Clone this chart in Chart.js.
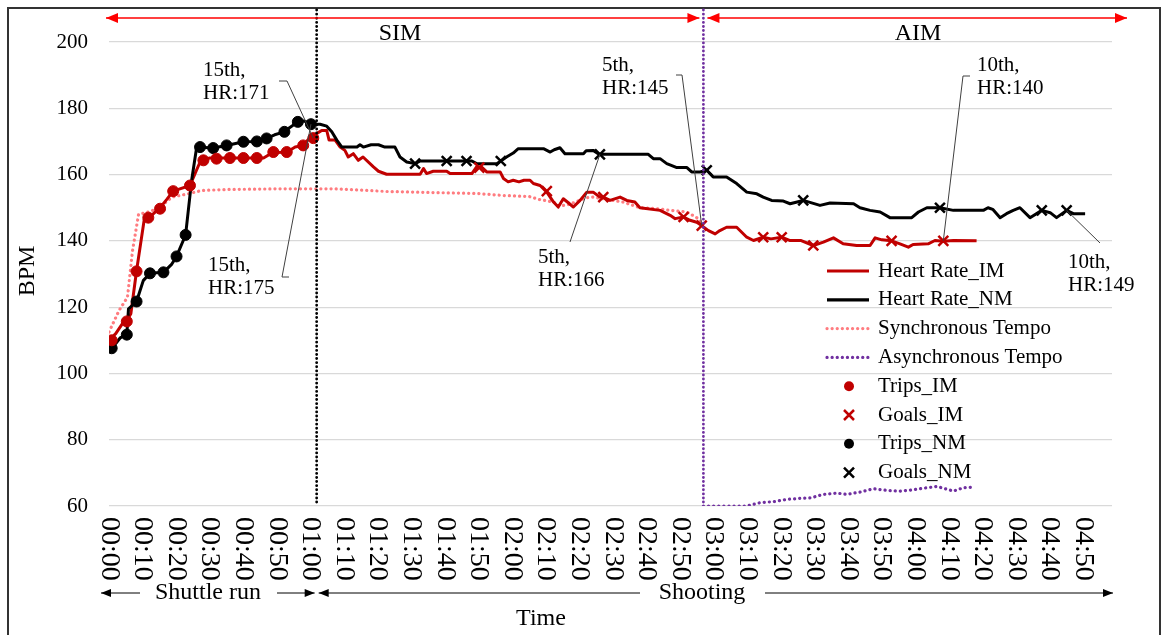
<!DOCTYPE html>
<html>
<head>
<meta charset="utf-8">
<script src="https://cdn.jsdelivr.net/npm/chart.js@4.4.1/dist/chart.umd.min.js"></script>
<style>
  html, body { margin: 0; padding: 0; background: #fff; }
  #wrap { width: 1169px; height: 635px; position: relative; }
</style>
</head>
<body>
<div id="wrap"><canvas id="chart" width="1169" height="635"></canvas></div>
<script>
// time in seconds from start, heart rate in BPM
const hrImSec = [0, 2, 4, 5.3, 6.5, 8.2, 10.5, 11.7, 13, 15.2, 17.2, 19.1, 21.1, 24.1, 25.6, 27.1, 28.1, 30, 46, 48.6, 53, 55.4, 57.8, 59.3, 60.8, 62, 63.3, 64.8, 65.5, 67.3, 68.8, 70.2, 71.2, 72.7, 74.2, 75.6, 78.7, 80.2, 82.6, 92.6, 93.6, 94.5, 96.5, 100.5, 101.5, 108, 109.4, 110.9, 112.4, 116.4, 117.4, 118.8, 120.3, 122, 123.5, 125.3, 126.3, 128.3, 130.3, 132.3, 133.7, 135.2, 136.7, 138.2, 140.2, 142.2, 144.1, 146.1, 147.1, 149.1, 152.1, 154.1, 156.5, 158, 164, 167, 168.5, 171, 172.9, 174.9, 176.4, 178.4, 180.4, 181.8, 183.8, 186.8, 189.8, 191.8, 194.7, 197, 200.2, 202.7, 206, 209.6, 212.6, 215.6, 218.5, 222.5, 226.5, 228, 230, 232.9, 235.4, 237.9, 239.3, 243.8, 245.8, 248.3, 251.3, 258.2];
const hrImBpm = [110, 112, 115, 116, 118, 131, 146.5, 147, 148, 150, 152.5, 155, 155.7, 156.7, 160.3, 163.8, 164.5, 165, 165, 166.6, 166.8, 168.3, 168.8, 170.6, 171, 172.5, 173.3, 173.3, 170.4, 170.4, 168.3, 167.3, 165.3, 166.3, 164.3, 165.3, 162.3, 161, 160.1, 160.1, 161.8, 160.3, 161, 161, 160.3, 160.3, 162.3, 162.3, 160.8, 160.8, 158.8, 157.8, 158.3, 157.8, 158.3, 158.3, 157.3, 156.7, 154.7, 151.7, 150.2, 152.7, 151.5, 150.2, 152.2, 154.7, 154.7, 153.2, 153.2, 152.2, 153.2, 152.2, 151.7, 150, 149.2, 147.7, 146.7, 147.2, 146.2, 145.6, 144.6, 143.1, 142.1, 143.1, 144.1, 144.1, 141.1, 140.1, 141.1, 140.6, 141.1, 140.1, 140.1, 138.6, 139.6, 140.9, 139.1, 138.6, 138.6, 140.9, 140.3, 140, 139.1, 138.1, 138.9, 139.1, 140.1, 139.9, 140.1, 140];

const hrNmSec = [0, 2, 3.3, 5.3, 5.8, 8.2, 10.2, 12.2, 16.2, 18.7, 20.1, 22.1, 22.8, 24.6, 26.1, 31, 35, 40, 44, 46.9, 49.3, 52.2, 53.4, 56.2, 58, 60.1, 62.8, 64.8, 66.3, 67.8, 69.3, 73.8, 74.7, 75.7, 78, 80.2, 82.1, 85.1, 86.6, 88.6, 91.1, 92.6, 108, 109.4, 115.4, 116.6, 118.3, 120.3, 121.8, 129.3, 131.3, 132.5, 134.2, 135.7, 141.2, 142, 144.1, 145.6, 146.1, 160.5, 162, 164, 166, 169, 172, 173.4, 175.9, 177.9, 179.8, 183.8, 186.8, 189.8, 192.8, 194.7, 197.2, 200.7, 202.7, 206.6, 211.6, 214.6, 221.6, 223.5, 226.5, 229.5, 232.4, 238.9, 240.9, 243.4, 247.3, 251.3, 260.2, 261.6, 263, 265.2, 267.1, 269.1, 271.1, 274.1, 277.6, 280.1, 282, 285, 287, 290.5];
const hrNmBpm = [107.6, 109, 110.7, 111.7, 119.5, 121.7, 128, 130.2, 130.5, 133, 135.3, 140.1, 141.8, 158.3, 168.3, 168, 168.8, 169.9, 170, 170.9, 172, 172.9, 173.9, 175.9, 176.2, 175.2, 175.2, 174.6, 172.9, 170.4, 168.3, 168.3, 169, 168.3, 169, 169, 168.3, 168.3, 165.3, 163.8, 163.3, 164.1, 164.1, 163.3, 163.3, 164.1, 165.3, 166.5, 167.8, 167.8, 166.8, 167.5, 168.1, 166.3, 166.3, 167.2, 167.3, 166.3, 166.1, 166.1, 164.8, 164.8, 163.3, 162.1, 162.1, 160.8, 160.8, 161.3, 159.3, 159.3, 157.3, 154.7, 154.2, 153.2, 152.2, 152, 151.2, 152.2, 150.7, 151.4, 151.2, 150, 149.2, 148.7, 147, 147, 148.7, 150, 150, 149.2, 149.2, 150, 149.5, 147, 148.2, 149.2, 150, 147, 149.2, 148.5, 147, 149.2, 148.2, 148.2];

const syncSec = [0, 3, 5.5, 7, 8.8, 12, 15, 18.7, 23.6, 27.6, 35, 50, 67.3, 82.6, 100, 109.4, 117, 125, 128, 132.3, 134, 137, 142, 144, 153, 158, 163, 167, 172, 174.9, 176.4];
const syncBpm = [112.5, 119, 123, 137, 148, 148.8, 150, 153.2, 154.2, 155.2, 155.5, 155.7, 155.7, 154.9, 154.5, 154.3, 153.7, 153.4, 152.5, 151.7, 150.5, 151, 153, 153.2, 151.7, 150, 149.7, 149.2, 148.7, 147, 145.5];

const asyncSec = [176.9, 189.8, 193.8, 197.7, 201.7, 205.7, 209, 212.6, 216.6, 219.5, 223.5, 227.5, 231.5, 235.4, 239.4, 243.4, 246.4, 251.3, 254.3, 257.3];
const asyncBpm = [60, 60, 61, 61.3, 62, 62.3, 62.5, 63.5, 63.9, 63.5, 64.2, 65.2, 64.7, 64.5, 64.9, 65.5, 65.9, 64.5, 65.5, 65.7];

const tripsImSec = [0.8, 5.3, 8.2, 11.7, 15.2, 19.1, 24.1, 28.1, 32, 36, 40, 44, 48.9, 52.9, 57.8, 60.8];
const tripsImBpm = [110, 115.7, 130.8, 147, 149.7, 155, 156.7, 164.3, 164.8, 165, 165, 165, 166.8, 166.8, 168.8, 171];
const tripsNmSec = [0.8, 5.3, 8.2, 12.2, 16.2, 20.1, 22.8, 27.1, 31, 35, 40, 44, 46.9, 52.2, 56.2, 60.1];
const tripsNmBpm = [107.6, 111.7, 121.7, 130.2, 130.5, 135.3, 141.8, 168.3, 168, 168.8, 169.9, 170, 170.9, 172.9, 175.9, 175.2];
const goalsImSec = [110.2, 130.3, 147.1, 171, 176.4, 194.7, 200.2, 209.6, 232.9, 248.3];
const goalsImBpm = [162.1, 155, 153.2, 147.2, 144.6, 141.1, 141.1, 138.6, 140, 140];
const goalsNmSec = [91.1, 100.5, 106.4, 116.6, 146.1, 177.9, 206.6, 247.3, 277.6, 285];
const goalsNmBpm = [163.3, 164.1, 164.1, 164.1, 166.1, 161.3, 152.2, 150, 149.2, 149.2];

const tickSecs = [0, 10, 20, 30, 40, 50, 60, 70, 80, 90, 100, 110, 120, 130, 140, 150, 160, 170, 180, 190, 200, 210, 220, 230, 240, 250, 260, 270, 280, 290];
const tickLabels = ['00:00', '00:10', '00:20', '00:30', '00:40', '00:50', '01:00', '01:10', '01:20', '01:30', '01:40', '01:50', '02:00', '02:10', '02:20', '02:30', '02:40', '02:50', '03:00', '03:10', '03:20', '03:30', '03:40', '03:50', '04:00', '04:10', '04:20', '04:30', '04:40', '04:50'];

// phase boundaries (seconds)
const shuttleEnd = 61.8;
const asyncStart = 176.9;

// callouts: label position, leader elbow, and the point it marks
const callouts = [
  { lines: ['15th,', 'HR:171'], text: [203, 70], elbow: [[279, 81], [287, 81]], sec: 60.8, bpm: 171 },
  { lines: ['15th,', 'HR:175'], text: [208, 265], elbow: [[289, 277], [282, 277]], sec: 60.1, bpm: 175.2 },
  { lines: ['5th,', 'HR:145'], text: [602, 65], elbow: [[676, 75], [682, 75]], sec: 176.4, bpm: 144.6 },
  { lines: ['5th,', 'HR:166'], text: [538, 257], elbow: [[570, 242]], sec: 146.1, bpm: 166.1 },
  { lines: ['10th,', 'HR:140'], text: [977, 65], elbow: [[970, 76], [963, 76]], sec: 248.3, bpm: 140 },
  { lines: ['10th,', 'HR:149'], text: [1068, 262], elbow: [[1100, 243]], sec: 285, bpm: 149.2 },
];

const RED = '#C00000';
const PINK = '#FF7C80';
const PURPLE = '#7030A0';
const DOTS = [0.1, 5];
const FONT = '"Liberation Serif", "Times New Roman", serif';

const pts = (xs, ys) => xs.map((v, i) => ({ x: v, y: ys[i] }));

const legendItems = [
  { label: 'Heart Rate_IM', kind: 'line', color: RED, dash: [] },
  { label: 'Heart Rate_NM', kind: 'line', color: '#000', dash: [] },
  { label: 'Synchronous Tempo', kind: 'line', color: PINK, dash: DOTS },
  { label: 'Asynchronous Tempo', kind: 'line', color: PURPLE, dash: DOTS },
  { label: 'Trips_IM', kind: 'dot', color: RED },
  { label: 'Goals_IM', kind: 'x', color: RED },
  { label: 'Trips_NM', kind: 'dot', color: '#000' },
  { label: 'Goals_NM', kind: 'x', color: '#000' },
];

function head(ctx, x, y, dir, len, half) {
  ctx.beginPath();
  ctx.moveTo(x, y);
  ctx.lineTo(x - dir * len, y - half);
  ctx.lineTo(x - dir * len, y + half);
  ctx.closePath();
  ctx.fill();
}

function hline(ctx, x1, x2, y) {
  ctx.beginPath();
  ctx.moveTo(x1, y);
  ctx.lineTo(x2, y);
  ctx.stroke();
}

const overlay = {
  id: 'overlay',
  afterDraw(chart) {
    const { ctx, chartArea: a, scales: { x, y } } = chart;
    ctx.save();

    // frame
    ctx.strokeStyle = '#333';
    ctx.lineWidth = 2;
    ctx.strokeRect(8, 8, 1152, 640);

    // x tick labels, rotated clockwise
    ctx.fillStyle = '#000';
    ctx.font = `28px ${FONT}`;
    ctx.textAlign = 'left';
    ctx.textBaseline = 'middle';
    tickSecs.forEach((s, i) => {
      ctx.save();
      ctx.translate(x.getPixelForValue(s), a.bottom + 11);
      ctx.rotate(Math.PI / 2);
      ctx.fillText(tickLabels[i], 0, 0);
      ctx.restore();
    });

    // axis titles
    ctx.textAlign = 'center';
    ctx.font = `24px ${FONT}`;
    ctx.fillText('Time', 541, 619);
    ctx.save();
    ctx.translate(28, 271);
    ctx.rotate(-Math.PI / 2);
    ctx.fillText('BPM', 0, 0);
    ctx.restore();

    // phase lines
    const xs = x.getPixelForValue(shuttleEnd);
    const xa = x.getPixelForValue(asyncStart);
    ctx.lineCap = 'round';
    ctx.lineWidth = 2.8;
    ctx.setLineDash([0.1, 4]);
    ctx.strokeStyle = '#000';
    ctx.beginPath(); ctx.moveTo(xs, 10); ctx.lineTo(xs, a.bottom); ctx.stroke();
    ctx.strokeStyle = PURPLE;
    ctx.beginPath(); ctx.moveTo(xa, 10); ctx.lineTo(xa, y.getPixelForValue(60)); ctx.stroke();
    ctx.setLineDash([]);
    ctx.lineCap = 'butt';

    // top red range arrows
    ctx.strokeStyle = '#FF0000';
    ctx.fillStyle = '#FF0000';
    ctx.lineWidth = 1.5;
    const ty = 18;
    hline(ctx, a.left - 3, xa - 4, ty);
    hline(ctx, xa + 4, 1127, ty);
    head(ctx, a.left - 3, ty, -1, 12, 5);
    head(ctx, xa - 4, ty, 1, 12, 5);
    head(ctx, xa + 4, ty, -1, 12, 5);
    head(ctx, 1127, ty, 1, 12, 5);
    ctx.fillStyle = '#000';
    ctx.font = `24px ${FONT}`;
    ctx.textBaseline = 'middle';
    ctx.fillText('SIM', 400, 34);
    ctx.fillText('AIM', 918, 34);

    // bottom phase arrows
    ctx.strokeStyle = '#000';
    ctx.lineWidth = 1;
    const by = 593;
    hline(ctx, 101, 140, by);
    head(ctx, 101, by, -1, 10, 4);
    hline(ctx, 277, xs - 2, by);
    head(ctx, xs - 2, by, 1, 10, 4);
    hline(ctx, xs + 2, 640, by);
    head(ctx, xs + 2, by, -1, 10, 4);
    hline(ctx, 765, 1113, by);
    head(ctx, 1113, by, 1, 10, 4);
    ctx.fillText('Shuttle run', 208, by);
    ctx.fillText('Shooting', 702, by);

    // callouts
    ctx.font = `21px ${FONT}`;
    ctx.textAlign = 'left';
    ctx.strokeStyle = '#404040';
    ctx.lineWidth = 1;
    callouts.forEach(c => {
      c.lines.forEach((t, i) => ctx.fillText(t, c.text[0], c.text[1] + i * 23));
      ctx.beginPath();
      ctx.moveTo(c.elbow[0][0], c.elbow[0][1]);
      c.elbow.slice(1).forEach(p => ctx.lineTo(p[0], p[1]));
      ctx.lineTo(x.getPixelForValue(c.sec), y.getPixelForValue(c.bpm));
      ctx.stroke();
    });

    // legend
    ctx.font = `21px ${FONT}`;
    legendItems.forEach((it, i) => {
      const ly = 271 + i * 28.8;
      ctx.strokeStyle = it.color;
      ctx.fillStyle = it.color;
      if (it.kind === 'line') {
        ctx.lineWidth = 3.2;
        ctx.lineCap = it.dash.length ? 'round' : 'butt';
        ctx.setLineDash(it.dash);
        hline(ctx, 827, 869, ly);
        ctx.setLineDash([]);
        ctx.lineCap = 'butt';
      } else if (it.kind === 'dot') {
        ctx.beginPath();
        ctx.arc(849, ly, 5, 0, Math.PI * 2);
        ctx.fill();
      } else {
        ctx.lineWidth = 2.5;
        ctx.beginPath();
        ctx.moveTo(844, ly - 5); ctx.lineTo(854, ly + 5);
        ctx.moveTo(854, ly - 5); ctx.lineTo(844, ly + 5);
        ctx.stroke();
      }
      ctx.fillStyle = '#000';
      ctx.fillText(it.label, 878, ly);
    });

    ctx.restore();
  }
};

const lineDs = (label, data, color, dash) => ({
  label, data, borderColor: color, backgroundColor: color,
  borderWidth: dash.length ? 3.2 : 3, borderDash: dash, borderCapStyle: dash.length ? 'round' : 'butt',
  borderJoinStyle: 'round', pointRadius: 0, tension: 0, fill: false,
});
const markDs = (label, data, color, style) => ({
  label, data, showLine: false, pointStyle: style,
  pointRadius: style === 'circle' ? 5.5 : 7,
  pointBorderWidth: style === 'circle' ? 1 : 2.5,
  pointBackgroundColor: color, pointBorderColor: color,
});

new Chart(document.getElementById('chart'), {
  type: 'line',
  data: {
    datasets: [
      markDs('Trips_IM', pts(tripsImSec, tripsImBpm), RED, 'circle'),
      markDs('Goals_IM', pts(goalsImSec, goalsImBpm), RED, 'crossRot'),
      markDs('Trips_NM', pts(tripsNmSec, tripsNmBpm), '#000', 'circle'),
      markDs('Goals_NM', pts(goalsNmSec, goalsNmBpm), '#000', 'crossRot'),
      lineDs('Heart Rate_NM', pts(hrNmSec, hrNmBpm), '#000', []),
      lineDs('Heart Rate_IM', pts(hrImSec, hrImBpm), RED, []),
      lineDs('Synchronous Tempo', pts(syncSec, syncBpm), PINK, DOTS),
      lineDs('Asynchronous Tempo', pts(asyncSec, asyncBpm), PURPLE, DOTS),
    ],
  },
  options: {
    responsive: false,
    animation: false,
    devicePixelRatio: 1,
    layout: { padding: { top: 42, right: 57, left: 0, bottom: 0 } },
    plugins: { legend: { display: false }, tooltip: { enabled: false } },
    scales: {
      x: {
        type: 'linear', min: 0, max: 298.5,
        grid: { display: false },
        border: { display: false },
        ticks: { display: false },
        afterFit: s => { s.height = 129; },
      },
      y: {
        min: 60, max: 200,
        ticks: { stepSize: 20, color: '#000', padding: 21, font: { family: FONT, size: 21 } },
        grid: { color: '#d9d9d9', lineWidth: 1.2, drawTicks: false },
        border: { display: false },
        afterFit: s => { s.width = 109; },
      },
    },
  },
  plugins: [overlay],
});
</script>
</body>
</html>
